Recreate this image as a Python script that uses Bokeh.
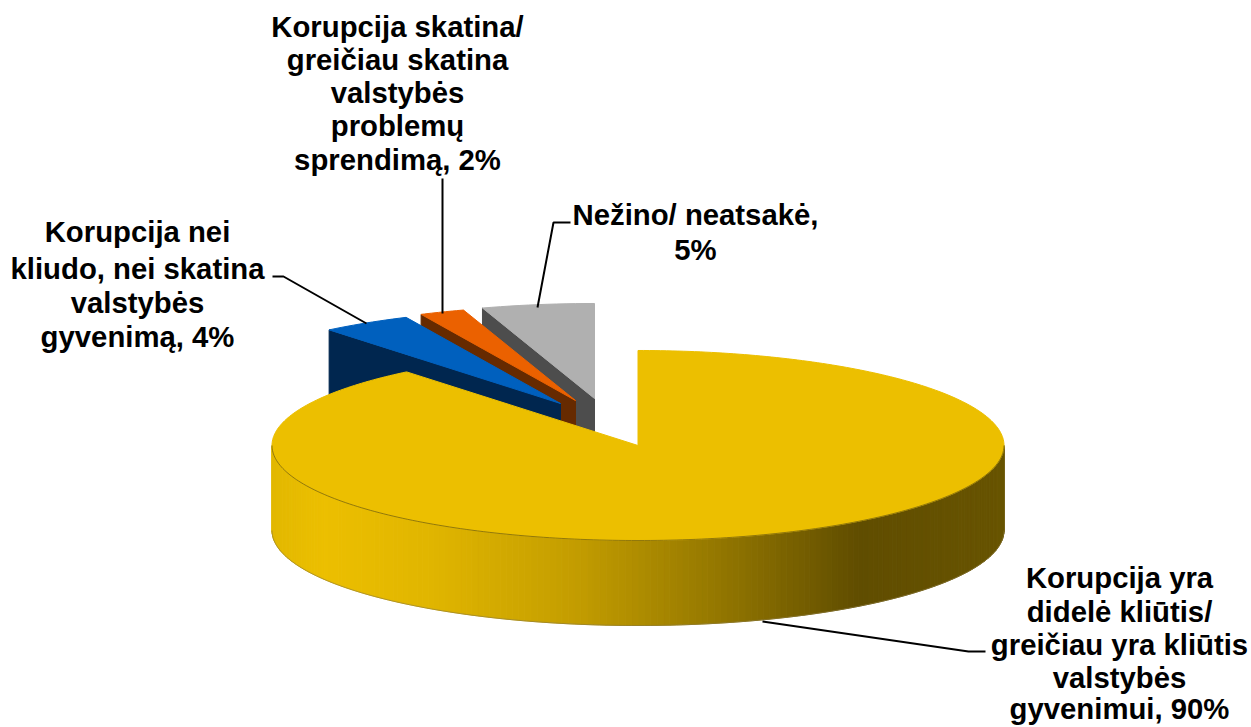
import math
from bokeh.plotting import figure
from bokeh.embed import file_html
from bokeh.resources import INLINE
from bokeh.core.properties import value

# ---- data ----
categories = ["Korupcija yra didelė kliūtis", "Korupcija nei kliudo", "Korupcija skatina", "Nežino/ neatsakė"]
values = [90, 4, 2, 5]
top_colors = ["#ECBF00", "#0060BE", "#EB6100", "#B0B0B0"]
side_colors = ["#665200", "#00264F", "#662A00", "#4D4D4D"]
label_lines = [
    ["Korupcija yra", "didelė kliūtis/", "greičiau yra kliūtis", "valstybės", "gyvenimui, 90%"],
    ["Korupcija nei", "kliudo, nei skatina", "valstybės", "gyvenimą, 4%"],
    ["Korupcija skatina/", "greičiau skatina", "valstybės", "problemų", "sprendimą, 2%"],
    ["Nežino/ neatsakė,", "5%"],
]

# ---- layout of the 3D projection (page pixels) ----
W, H = 1251, 727
APEX = [(637.5, 445), (560, 403), (575, 400), (594, 398)]
RX = [366, 366, 366, 366]
TILT = 0.2596
DEPTH = 85
LABEL_X = [1119, 137, 397, 695]
LABEL_Y = [[577, 611, 644, 677, 708], [231, 268, 302, 336], [26, 59, 92, 125, 159], [214, 249]]
FONT = "29.3px"
LEADERS = [
    ([762, 968, 985], [621, 651, 651]),
    ([366, 283, 272], [323, 276, 276]),
    ([442, 442], [313, 178]),
    ([537, 553, 570], [307, 222, 222]),
]

total = sum(values)
edges = [0.0]
for v in values:
    edges.append(edges[-1] + v / total * 360)


def rim(i, deg):
    t = math.radians(deg)
    return APEX[i][0] + RX[i] * math.sin(t), APEX[i][1] - RX[i] * TILT * math.cos(t)


p = figure(width=W, height=H, x_range=(0, W), y_range=(H, 0), output_backend="svg",
           toolbar_location=None, min_border=0, outline_line_color=None,
           background_fill_color="white")
p.axis.visible = False
p.grid.visible = False

# exploded slices, far ones first
for i in (3, 2, 1):
    a0, a1 = edges[i], edges[i + 1]
    ax, ay = APEX[i]
    cx, cy = rim(i, a0)
    p.patch([ax, cx, cx, ax], [ay, cy, cy + DEPTH, ay + DEPTH],
            fill_color=side_colors[i], line_color=side_colors[i], line_width=1)
    n = 12
    arc = [rim(i, a0 + (a1 - a0) * k / n) for k in range(n + 1)]
    p.patch([ax] + [q[0] for q in arc], [ay] + [q[1] for q in arc],
            fill_color=top_colors[i], line_color=top_colors[i], line_width=1)

# front wall of the large slice, shaded along x
stops = [(0.0, (226, 184, 0)), (0.07, (236, 191, 0)), (0.22, (224, 181, 0)), (0.42, (194, 156, 0)),
         (0.6, (150, 121, 0)), (0.8, (96, 77, 0)), (1.0, (104, 84, 0))]


def shade(f):
    for (f0, c0), (f1, c1) in zip(stops, stops[1:]):
        if f <= f1:
            s = (f - f0) / (f1 - f0)
            return "#%02x%02x%02x" % tuple(round(a + (b - a) * s) for a, b in zip(c0, c1))
    return "#%02x%02x%02x" % stops[-1][1]


xs, ys, cs = [], [], []
step = 1.0
deg = 90.0
while deg < 270:
    x0, y0 = rim(0, deg)
    x1, y1 = rim(0, deg + step)
    xs.append([x0, x1, x1, x0])
    ys.append([y0, y1, y1 + DEPTH, y0 + DEPTH])
    cs.append(shade(((x0 + x1) / 2 - (APEX[0][0] - RX[0])) / (2 * RX[0])))
    deg += step
p.patches(xs, ys, fill_color=cs, line_color=cs, line_width=1)

# top of the large slice
n = 360
arc = [rim(0, edges[1] * k / n) for k in range(n + 1)]
p.patch([APEX[0][0]] + [q[0] for q in arc], [APEX[0][1]] + [q[1] for q in arc],
        fill_color=top_colors[0], line_color=top_colors[0], line_width=1)

# dark seam and bottom edge on the wall
front = [rim(0, 90 + k) for k in range(181)]
p.line([q[0] for q in front], [q[1] for q in front], line_color="#6b5a10", line_width=1, line_alpha=0.7)
p.line([q[0] for q in front], [q[1] + DEPTH for q in front], line_color="#8a7a40", line_width=1, line_alpha=0.6)

# leaders
for lx, ly in LEADERS:
    p.line(lx, ly, line_color="black", line_width=2)

# labels
tx, ty, tt = [], [], []
for lines, x, yy in zip(label_lines, LABEL_X, LABEL_Y):
    for s, y in zip(lines, yy):
        tx.append(x); ty.append(y); tt.append(s)
p.text(tx, ty, text=tt, text_font=value("Liberation Sans"), text_font_style="bold",
       text_font_size=FONT, text_align="center", text_baseline="alphabetic", text_color="black")

open("out.html", "w").write(file_html(p, INLINE))
